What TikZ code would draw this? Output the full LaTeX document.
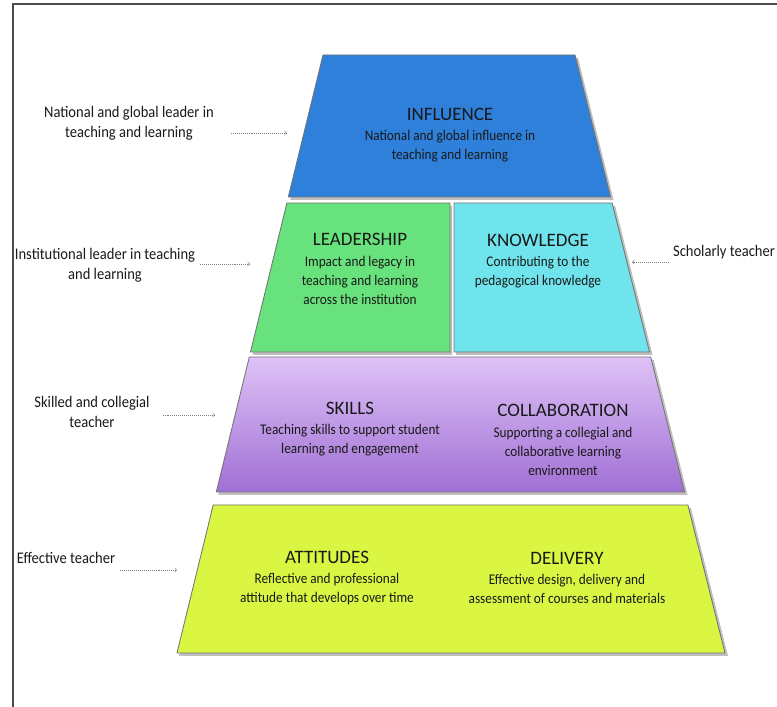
\documentclass[tikz,border=0pt]{standalone}
\usepackage{fontspec}
\setmainfont{Carlito}
\newfontfamily\bodyfont{Carlito}[FakeStretch=0.9]
\usetikzlibrary{arrows}
\usetikzlibrary{calc}

\definecolor{inflblue}{RGB}{46,128,218}
\definecolor{leadgreen}{RGB}{104,226,124}
\definecolor{knowcyan}{RGB}{112,228,236}
\definecolor{skilltop}{RGB}{222,194,247}
\definecolor{skillbot}{RGB}{160,112,212}
\definecolor{attyellow}{RGB}{218,246,66}

\newcommand\tiertitle[1]{{\normalfont\fontsize{13.5}{14}\selectfont #1}}

\begin{document}
\begin{tikzpicture}[x=0.025cm,y=-0.025cm,
		tier/.style={draw=black!55,line width=0.6pt},
		drop/.style={fill=black,opacity=0.25},
		blurb/.style={align=center,text=black!90,font=\bodyfont\fontsize{10.5}{13.5}\selectfont},
		side/.style={align=center,text=black!90,font=\bodyfont\fontsize{11.5}{14}\selectfont},
		pointer/.style={->,draw=black!50,densely dotted,thin},]
		\useasboundingbox (0,0) rectangle (777,707);
		
		% frame
		\draw[black!70,line width=0.8pt] (13,707) -- (13,4) -- (777,4);
		
		% shadows
		\fill[drop] (325,58) -- (578,58) -- (613.6,200) -- (290.3,200) -- cycle;
		\fill[drop] (289,206) -- (452,206) -- (452,355) -- (252.5,355) -- cycle;
		\fill[drop] (456,206) -- (615.1,206) -- (652.5,355) -- (456,355) -- cycle;
		\fill[drop] (251.3,360) -- (653.7,360) -- (687.6,495) -- (218.3,495) -- cycle;
		\fill[drop] (215.2,508) -- (690.9,508) -- (728,656) -- (179,656) -- cycle;
		
		% tiers
		\filldraw[tier,fill=inflblue] (323,55) -- (575,55) -- (610.6,197) -- (288.3,197) -- cycle;
		\filldraw[tier,fill=leadgreen] (286.9,203) -- (450,203) -- (450,352) -- (250.5,352) -- cycle;
		\filldraw[tier,fill=knowcyan] (454,203) -- (612.1,203) -- (649.5,352) -- (454,352) -- cycle;
		\shadedraw[tier,top color=skilltop,bottom color=skillbot] (249.3,357) -- (650.7,357) -- (684.6,492) -- (216.3,492) -- cycle;
		\filldraw[tier,fill=attyellow] (213.2,505) -- (687.9,505) -- (725,653) -- (177,653) -- cycle;
		
		% texts in the tiers
		\node[blurb] (influence) at (450,135) {\tiertitle{INFLUENCE}\\[1pt] National and global influence in\\ teaching and learning};
		\node[blurb] (leadership) at (360,269) {\tiertitle{LEADERSHIP}\\[1pt] Impact and legacy in\\ teaching and learning\\ across the institution};
		\node[blurb] (knowledge) at (538,261) {\tiertitle{KNOWLEDGE}\\[1pt] Contributing to the\\ pedagogical knowledge};
		\node[blurb] (skills) at (350,429) {\tiertitle{SKILLS}\\[1pt] Teaching skills to support student\\ learning and engagement};
		\node[blurb] (collaboration) at (563,440) {\tiertitle{COLLABORATION}\\[1pt] Supporting a collegial and\\ collaborative learning\\ environment};
		\node[blurb] (attitudes) at (327,578) {\tiertitle{ATTITUDES}\\[1pt] Reflective and professional\\ attitude that develops over time};
		\node[blurb] (delivery) at (567,578) {\tiertitle{DELIVERY}\\[1pt] Effective design, delivery and\\ assessment of courses and materials};
		
		% side labels
		\node[side] (national) at (129,123) {National and global leader in\\ teaching and learning};
		\node[side] (institutional) at (105,265) {Institutional leader in teaching\\ and learning};
		\node[side] (skilled) at (92,412) {Skilled and collegial\\ teacher};
		\node[side] (effective) at (66,558) {Effective teacher};
		\node[side] (scholarly) at (724,252) {Scholarly teacher};
		
		\coordinate (nationaltip) at (287,133);
		\coordinate (institutionaltip) at (250,264);
		\coordinate (skilledtip) at (215,415);
		\coordinate (effectivetip) at (177,570);
		\coordinate (scholarlytip) at (632,262);
		
		\draw[pointer] ($(national.east |- nationaltip)+(12,0)$) -- (nationaltip);
		\draw[pointer] (institutional.east |- institutionaltip) -- (institutionaltip);
		\draw[pointer] ($(skilled.east |- skilledtip)+(8,0)$) -- (skilledtip);
		\draw[pointer] (effective.east |- effectivetip) -- (effectivetip);
		\draw[pointer] (scholarly.west |- scholarlytip) -- (scholarlytip);
		
	\end{tikzpicture}
\end{document}
